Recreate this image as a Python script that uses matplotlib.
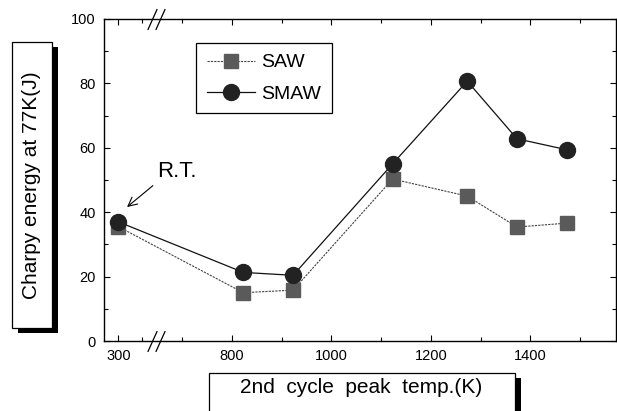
import numpy as np
import matplotlib
matplotlib.use('Agg')
import matplotlib.pyplot as plt
from matplotlib.patches import Rectangle

plt.rcParams['font.family'] = ['Liberation Sans', 'DejaVu Sans']

# data
temp = [300, 823, 923, 1123, 1273, 1373, 1473]
saw = [35.5, 15.0, 15.8, 50.3, 45.0, 35.4, 36.6]
smaw = [37.0, 21.3, 20.4, 55.0, 80.7, 62.8, 59.4]

major_x = [300, 800, 1000, 1200, 1400]
minor_x = [400, 700, 900, 1100, 1300, 1500]
xtick_labels = ['300', '800', '1000', '1200', '1400']

# broken x axis: squeeze the 300..700 range
brk_d = [-1e5, 300, 400, 700, 1e5]
brk_s = [-1e5 + 272, 572, 620, 700, 1e5]


def fwd(x):
    return np.interp(x, brk_d, brk_s)


def inv(x):
    return np.interp(x, brk_s, brk_d)


W, H = 617, 411
fig = plt.figure(figsize=(W / 100, H / 100), dpi=100)
ax = fig.add_axes([104 / W, 1 - 341 / H, 512 / W, 322 / H])
ax.set_xscale('function', functions=(fwd, inv))

ax.plot(temp, saw, color='#444444', lw=0.8, ls=(0, (2, 1)),
        marker='s', ms=10, mfc='#5a5a5a', mec='#5a5a5a', label='SAW', zorder=3)
ax.plot(temp, smaw, color='#111111', lw=0.9, ls='-',
        marker='o', ms=11.5, mfc='#222222', mec='#222222', label='SMAW', zorder=4)

ax.set_xlim(271, 1572)
ax.set_ylim(0, 100)
ax.set_xticks(major_x)
ax.set_xticklabels(xtick_labels)
ax.set_xticks(minor_x, minor=True)
ax.set_yticks(np.arange(0, 101, 20))
ax.set_yticks(np.arange(10, 100, 20), minor=True)
ax.tick_params(which='both', direction='in', top=True, right=True,
               width=0.8, labelsize=10.5, pad=6)
ax.tick_params(which='major', length=4.5)
ax.tick_params(which='minor', length=2.8)
for s in ax.spines.values():
    s.set_linewidth(1.0)

# break marks on top and bottom spines
slash = [(-0.45, -1), (0.45, 1)]
for xb in [470, 530]:
    for yb in [0, 1]:
        ax.plot([xb], [yb], marker=slash, ms=15, mec='black', mew=0.9,
                mfc='none', ls='none', transform=ax.get_xaxis_transform(),
                clip_on=False, zorder=5)

leg = ax.legend(loc='upper left', bbox_to_anchor=(0.18, 0.925), fontsize=14,
                frameon=True, fancybox=False, edgecolor='black', framealpha=1,
                handlelength=2.5, handletextpad=0.3, labelspacing=0.7,
                borderpad=0.55, borderaxespad=0)
leg.get_frame().set_linewidth(0.9)

ax.annotate('R.T.', xy=(0.045, 0.416), xycoords='axes fraction',
            xytext=(0.103, 0.525), textcoords='axes fraction',
            fontsize=16, ha='left', va='center',
            arrowprops=dict(arrowstyle='->', lw=0.8, color='black',
                            relpos=(0.0, 0.0), shrinkA=1, shrinkB=0))


def label_box(x0, y0, x1, y1, text, rot):
    # white box with a black drop shadow, pixel coords from top-left
    fig.add_artist(Rectangle(((x0 + 6) / W, 1 - (y1 + 5) / H), (x1 - x0) / W,
                             (y1 - y0) / H, transform=fig.transFigure,
                             facecolor='black', edgecolor='black', lw=0))
    fig.add_artist(Rectangle((x0 / W, 1 - y1 / H), (x1 - x0) / W, (y1 - y0) / H,
                             transform=fig.transFigure, facecolor='white',
                             edgecolor='black', lw=0.9))
    fig.text((x0 + x1) / 2 / W, 1 - (y0 + y1) / 2 / H, text, rotation=rot,
             ha='center', va='center', fontsize=15)


label_box(12, 42, 52, 328, 'Charpy energy at 77K(J)', 90)

# x label box runs off the bottom of the picture
fig.add_artist(Rectangle((515 / W, -0.01), 6 / W, 1 - 378 / H + 0.01,
                         transform=fig.transFigure, facecolor='black', lw=0))
fig.add_artist(Rectangle((209 / W, -0.05), 306 / W, 1 - 373 / H + 0.05,
                         transform=fig.transFigure, facecolor='white',
                         edgecolor='black', lw=0.9))
fig.text(361 / W, 1 - 387 / H, '2nd  cycle  peak  temp.(K)',
         ha='center', va='center', fontsize=15)

fig.savefig('out.png', dpi=100)
